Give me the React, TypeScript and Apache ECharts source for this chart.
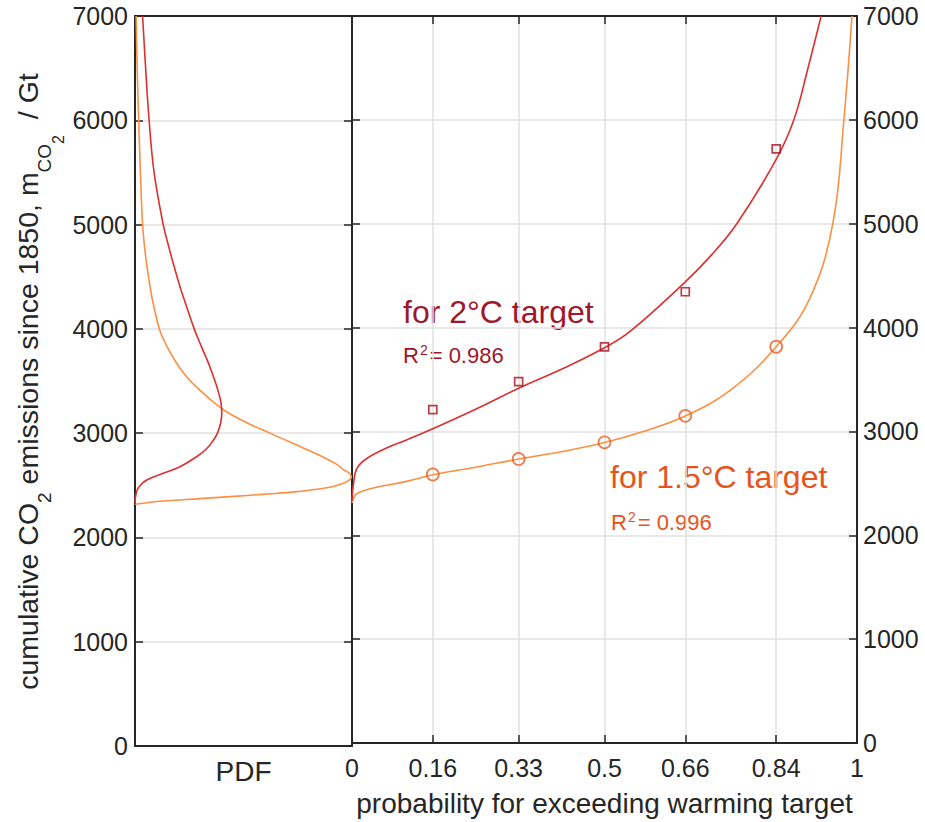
import React, { useEffect, useRef } from 'react';
import * as echarts from 'echarts';

// ---- data ----
const probTicks = [0, 0.16, 0.33, 0.5, 0.66, 0.84, 1];
const obsProb = [0.16, 0.33, 0.5, 0.66, 0.84];
const obs2C = [3210, 3480, 3815, 4345, 5720];
const obs15C = [2585, 2735, 2895, 3150, 3815];

// fitted quantile curves: [probability, cumulative CO2]
const fit2C: [number, number][] = [
  [0, 2330], [0.003, 2500], [0.01, 2646], [0.03, 2742], [0.075, 2855], [0.108, 2918],
  [0.16, 3025], [0.25, 3225], [0.33, 3415], [0.42, 3610], [0.5, 3805], [0.55, 3960],
  [0.66, 4440], [0.712, 4700], [0.762, 5000], [0.84, 5619], [0.875, 6000], [0.903, 6500], [0.929, 7000],
];
const fit15C: [number, number][] = [
  [0, 2311], [0.006, 2385], [0.016, 2416], [0.042, 2455], [0.108, 2519], [0.16, 2582],
  [0.25, 2660], [0.33, 2735], [0.42, 2810], [0.5, 2893], [0.58, 3005], [0.66, 3148],
  [0.75, 3400], [0.84, 3815], [0.906, 4277], [0.952, 5000], [0.974, 6000], [0.99, 7000],
];

// PDFs (normalised): [pdf, cumulative CO2]
const pdf2C: [number, number][] = [
  [0, 2327], [0.003, 2400], [0.01, 2455], [0.025, 2500], [0.054, 2551], [0.13, 2615],
  [0.207, 2678], [0.284, 2774], [0.33, 2850], [0.362, 2934], [0.38, 3000], [0.395, 3100],
  [0.4, 3200], [0.397, 3280], [0.389, 3360], [0.375, 3460], [0.355, 3580], [0.333, 3700],
  [0.31, 3810], [0.29, 3910], [0.273, 4000], [0.24, 4200], [0.208, 4400], [0.18, 4600],
  [0.154, 4800], [0.13, 5000], [0.088, 5500], [0.065, 6000], [0.049, 6500], [0.035, 7000],
];
const pdf15C: [number, number][] = [
  [0, 2318], [0.13, 2349], [0.3, 2372], [0.438, 2391], [0.6, 2415], [0.745, 2439],
  [0.899, 2481], [0.96, 2519], [0.99, 2555], [0.997, 2585], [0.985, 2620], [0.96, 2650],
  [0.93, 2700], [0.837, 2800], [0.73, 2900], [0.622, 3000], [0.515, 3100], [0.425, 3200],
  [0.36, 3300], [0.305, 3400], [0.255, 3500], [0.215, 3600], [0.183, 3700], [0.155, 3800],
  [0.131, 3900], [0.112, 4000], [0.083, 4250], [0.062, 4500], [0.046, 4750], [0.035, 5000],
  [0.025, 5500], [0.017, 6000], [0.01, 6500], [0.005, 7000],
];

const FONT = "'Liberation Sans', Arial, Helvetica, sans-serif";
const INK = '#262626';
const RED = '#dc2f2f';
const ORANGE = '#fd8f42';
const RED_MARK = '#a50f1c';
const ORANGE_MARK = '#e85a1a';
const RED_TEXT = '#a0162a';
const ORANGE_TEXT = '#e8531c';

export default function App() {
  const ref = useRef<HTMLDivElement>(null);
  useEffect(() => {
    if (!ref.current) return;
    const chart = echarts.init(ref.current, undefined, { renderer: 'svg' });
    const axisLine = { show: true, onZero: false, lineStyle: { color: INK, width: 2 } };
    const tick = { show: true, inside: true, length: 8, lineStyle: { color: INK, width: 1.5 } };
    const gridLine = { show: true, lineStyle: { color: '#e0e0e0', width: 1.5 } };
    const label = { fontSize: 25, color: INK, fontFamily: FONT, formatter: (v: number) => String(v) };
    const yBase = { type: 'value' as const, min: 0, max: 7000, interval: 1000 };
    const curve = (color: string) => ({ color, width: 1.6 });

    chart.setOption({
      animation: false,
      textStyle: { fontFamily: FONT },
      grid: [
        { left: 135, top: 16, width: 217, height: 730 },
        { left: 352, top: 16, width: 505, height: 730 },
      ],
      xAxis: [
        {
          gridIndex: 0, type: 'value', min: 0, max: 1, position: 'bottom',
          axisLine, axisTick: { show: false }, axisLabel: { show: false }, splitLine: { show: false },
          name: 'PDF', nameLocation: 'middle', nameGap: 11,
          nameTextStyle: { fontSize: 28, color: INK, fontFamily: FONT },
        },
        {
          gridIndex: 0, type: 'value', min: 0, max: 1, position: 'top',
          axisLine, axisTick: { show: false }, axisLabel: { show: false }, splitLine: { show: false },
        },
        {
          gridIndex: 1, type: 'value', min: 0, max: 1, position: 'bottom',
          axisLine,
          axisTick: { ...tick, customValues: probTicks },
          axisLabel: { ...label, margin: 12, customValues: probTicks },
          splitLine: gridLine,
          name: 'probability for exceeding warming target', nameLocation: 'middle', nameGap: 46,
          nameTextStyle: { fontSize: 28, color: INK, fontFamily: FONT },
        },
        {
          gridIndex: 1, type: 'value', min: 0, max: 1, position: 'top',
          axisLine,
          axisTick: { ...tick, customValues: probTicks },
          axisLabel: { show: false }, splitLine: { show: false },
        },
      ],
      yAxis: [
        {
          ...yBase, gridIndex: 0, position: 'left', axisLine, axisTick: tick,
          axisLabel: { ...label, margin: 7 }, splitLine: gridLine,
        },
        {
          ...yBase, gridIndex: 0, position: 'right', axisLine, axisTick: tick,
          axisLabel: { show: false }, splitLine: { show: false },
        },
        {
          ...yBase, gridIndex: 1, position: 'left', axisLine, axisTick: tick,
          axisLabel: { show: false }, splitLine: gridLine,
        },
        {
          ...yBase, gridIndex: 1, position: 'right', axisLine, axisTick: tick,
          axisLabel: { ...label, margin: 6 }, splitLine: { show: false },
        },
      ],
      series: [
        {
          type: 'line', xAxisIndex: 0, yAxisIndex: 0, data: pdf15C, showSymbol: false,
          smooth: 0.4, lineStyle: curve(ORANGE), z: 3,
        },
        {
          type: 'line', xAxisIndex: 0, yAxisIndex: 0, data: pdf2C, showSymbol: false,
          smooth: 0.4, lineStyle: curve(RED), z: 3,
        },
        {
          type: 'line', xAxisIndex: 2, yAxisIndex: 2, data: fit15C, showSymbol: false,
          smooth: 0.4, lineStyle: curve(ORANGE), z: 3,
        },
        {
          type: 'line', xAxisIndex: 2, yAxisIndex: 2, data: fit2C, showSymbol: false,
          smooth: 0.4, lineStyle: curve(RED), z: 3,
        },
        {
          type: 'scatter', xAxisIndex: 2, yAxisIndex: 2,
          data: obsProb.map((p, i) => [p, obs2C[i]]),
          symbol: 'rect', symbolSize: 8,
          itemStyle: { color: 'rgba(0,0,0,0)', borderColor: RED_MARK, borderWidth: 1.7 }, z: 4,
        },
        {
          type: 'scatter', xAxisIndex: 2, yAxisIndex: 2,
          data: obsProb.map((p, i) => [p, obs15C[i]]),
          symbol: 'circle', symbolSize: 12,
          itemStyle: { color: 'rgba(0,0,0,0)', borderColor: ORANGE_MARK, borderWidth: 1.7 }, z: 4,
        },
      ],
      graphic: [
        {
          type: 'text', x: 28, y: 381.5, rotation: Math.PI / 2,
          style: {
            text: '{m|cumulative CO}{s|2}{m| emissions since 1850, m}{s|CO}{ss|2}{m|  / Gt}',
            align: 'center', verticalAlign: 'middle', fill: INK,
            rich: {
              m: { fontSize: 28.5, fontFamily: FONT, fill: INK },
              s: { fontSize: 19, fontFamily: FONT, fill: INK, padding: [32, 0, 0, 0] },
              ss: { fontSize: 16, fontFamily: FONT, fill: INK, padding: [60, 0, 0, 0] },
            },
          },
        },
        {
          type: 'text', x: 403, y: 311.6,
          style: { text: 'for 2°C target', fontSize: 32, fontFamily: FONT, fill: RED_TEXT, align: 'left', verticalAlign: 'middle' },
        },
        {
          type: 'text', x: 403, y: 355.7,
          style: {
            text: '{r|R}{sup|2}{r|= 0.986}', align: 'left', verticalAlign: 'middle', fill: RED_TEXT,
            fontSize: 22, fontFamily: FONT,
            rich: {
              r: { fontSize: 22, fontFamily: FONT, fill: RED_TEXT },
              sup: { fontSize: 14, fontFamily: FONT, fill: RED_TEXT, padding: [0, 2, 11, 1] },
            },
          },
        },
        {
          type: 'text', x: 610, y: 477.2,
          style: { text: 'for 1.5°C target', fontSize: 32, fontFamily: FONT, fill: ORANGE_TEXT, align: 'left', verticalAlign: 'middle' },
        },
        {
          type: 'text', x: 611, y: 522.4,
          style: {
            text: '{r|R}{sup|2}{r|= 0.996}', align: 'left', verticalAlign: 'middle', fill: ORANGE_TEXT,
            fontSize: 22, fontFamily: FONT,
            rich: {
              r: { fontSize: 22, fontFamily: FONT, fill: ORANGE_TEXT },
              sup: { fontSize: 14, fontFamily: FONT, fill: ORANGE_TEXT, padding: [0, 2, 11, 1] },
            },
          },
        },
      ],
    });
    return () => chart.dispose();
  }, []);
  return (
    <div
      ref={ref}
      style={{ position: 'fixed', left: 0, top: 0, width: 925, height: 822, background: '#fff' }}
    />
  );
}
